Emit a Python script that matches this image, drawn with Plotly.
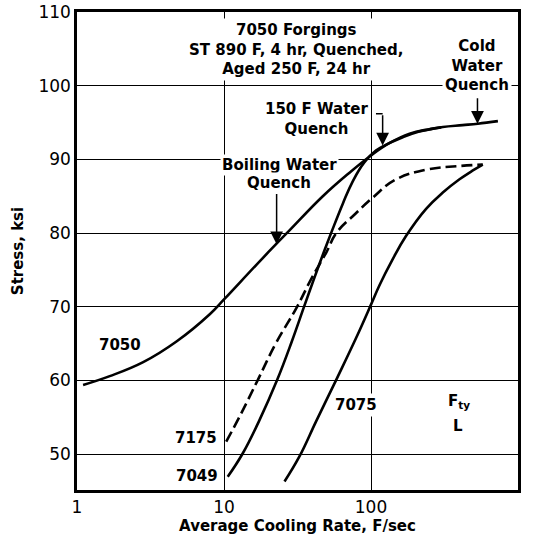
import math
import plotly.graph_objects as go

# Average cooling rate (F/sec) and longitudinal yield strength Fty (ksi)
rate_7050 = [1.10, 1.67, 2.82, 4.75, 8.0, 10.0, 16.6, 22.6, 28.0, 47.0, 71.4, 98.0, 133, 183, 250, 308, 420, 533, 730]
ksi_7050 = [59.4, 60.6, 62.5, 65.3, 69.0, 71.0, 75.7, 78.5, 80.4, 85.0, 88.2, 90.4, 92.2, 93.5, 94.1, 94.4, 94.65, 94.85, 95.2]

rate_7049 = [10.6, 13.4, 17.4, 22.9, 28.8, 35.3, 41.3, 47.5, 54.0, 64.3, 75.0, 90.0, 108, 127, 160, 210, 300]
ksi_7049 = [46.95, 50.1, 54.6, 60.0, 65.2, 70.2, 74.0, 77.3, 80.2, 84.0, 87.0, 89.6, 91.2, 92.0, 92.9, 93.75, 94.35]

rate_7175 = [10.35, 13.1, 17.0, 22.6, 31.0, 39.0, 50.0, 58.0, 78.0, 104, 145, 237, 400, 576]
ksi_7175 = [51.7, 55.55, 60.1, 65.1, 69.8, 73.7, 77.5, 80.0, 82.6, 84.9, 87.2, 88.6, 89.1, 89.3]

rate_7075 = [25.8, 32.6, 42.4, 58.0, 79.3, 100, 114, 140, 173, 237, 308, 400, 493, 576]
ksi_7075 = [46.3, 49.7, 54.5, 60.1, 65.8, 70.3, 72.9, 76.4, 79.6, 83.3, 85.5, 87.3, 88.5, 89.3]

x_ticks = [1, 10, 100, 1000]
x_tick_text = ["1", "10", "100", "1000"]
y_ticks = [50, 60, 70, 80, 90, 100, 110]
y_tick_text = ["50", "60", "70", "80", "90", "100", "110"]

LABEL_FONT = dict(family="DejaVu Sans", size=15, color="black")
BOLD = "<b>{}</b>"

fig = go.Figure()

for xs, ys, dash in [
    (rate_7050, ksi_7050, "solid"),
    (rate_7049, ksi_7049, "solid"),
    (rate_7175, ksi_7175, "11px,5px"),
    (rate_7075, ksi_7075, "solid"),
]:
    fig.add_trace(go.Scatter(
        x=xs, y=ys, mode="lines",
        line=dict(color="black", width=2.6, dash=dash, shape="spline", smoothing=1.2),
        hoverinfo="skip", showlegend=False,
    ))


def lg(v):
    return math.log10(v)


def label(text, x, y, xanchor="center", bg=True, size=15, pad=2):
    fig.add_annotation(
        x=lg(x), y=y, xref="x", yref="y", text=BOLD.format(text),
        showarrow=False, xanchor=xanchor, yanchor="middle",
        font=dict(LABEL_FONT, size=size),
        bgcolor="white" if bg else "rgba(0,0,0,0)", borderpad=pad,
    )


def arrow(x, y_tail, y_tip, head=True, x_tail=None):
    fig.add_annotation(
        x=lg(x), y=y_tip, ax=lg(x_tail if x_tail else x), ay=y_tail,
        xref="x", yref="y", axref="x", ayref="y", text="",
        showarrow=True, arrowhead=2 if head else 0, arrowsize=1.7,
        arrowwidth=1.5, arrowcolor="black", standoff=0, startstandoff=0,
    )


# Heading block
label("7050 Forgings<br>ST 890 F, 4 hr, Quenched,<br>Aged 250 F, 24 hr", 31.1, 104.9)

# Quench annotations
label("Cold<br>Water<br>Quench", 522, 102.7)
arrow(530, 98.5, 94.85)

label("150 F Water<br>Quench", 42.6, 95.5)
arrow(120, 96.2, 96.2, head=False, x_tail=105.6)
arrow(120, 96.2, 91.9)

label("Boiling Water", 23.9, 89.2, pad=1)
label("Quench", 23.6, 86.75, pad=1)
arrow(22.8, 85.5, 78.5)

# Alloy labels
label("7050", 1.95, 64.8, bg=False)
label("7175", 9.32, 52.2, xanchor="right", bg=False)
label("7049", 9.61, 47.05, xanchor="right", bg=False)
label("7075", 79.3, 56.7)
label("F<sub>ty</sub>", 394, 57.2, bg=False)
label("L", 388, 53.8, bg=False)

fig.update_xaxes(
    type="log", range=[0, 3],
    tickvals=x_ticks, ticktext=x_tick_text,
    showgrid=True, gridcolor="black", gridwidth=1.3,
    showline=True, linecolor="black", linewidth=2.5, mirror=True,
    ticks="", tickfont=dict(family="DejaVu Sans", size=17, color="black"),
    title=dict(text="<b>Average Cooling Rate, F/sec</b>",
               font=dict(family="DejaVu Sans", size=15, color="black"), standoff=4),
    zeroline=False,
)
fig.update_yaxes(
    range=[45.15, 110],
    tickvals=y_ticks, ticktext=y_tick_text,
    showgrid=True, gridcolor="black", gridwidth=1.3,
    showline=True, linecolor="black", linewidth=2.5, mirror=True,
    ticks="", tickfont=dict(family="DejaVu Sans", size=17, color="black"),
    title=dict(text="<b>Stress, ksi</b>",
               font=dict(family="DejaVu Sans", size=15, color="black"), standoff=12),
    zeroline=False,
)

fig.update_layout(
    width=533, height=543,
    margin=dict(l=77, r=15, t=12, b=53, autoexpand=False),
    paper_bgcolor="white", plot_bgcolor="white",
    showlegend=False,
)

fig.write_html("out.html")
